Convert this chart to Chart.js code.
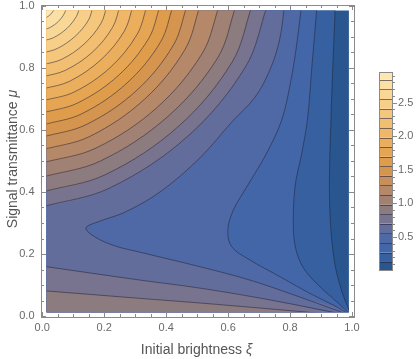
<!DOCTYPE html>
<html lang="en">
<head>
<meta charset="UTF-8">
<title>Contour plot</title>
<script src="https://cdn.jsdelivr.net/npm/chart.js"></script>
<style>
  html, body { margin: 0; padding: 0; background: #fff; }
</style>
</head>
<body>
<canvas id="contourChart" width="420" height="359"></canvas>
<script>
// contour levels (as in the colour bar) and the colour of each band between them
const levels = [0.13, 0.27, 0.41, 0.555, 0.70, 0.84, 0.98, 1.125, 1.27, 1.41,
                1.55, 1.695, 1.84, 1.98, 2.12, 2.265, 2.41, 2.55, 2.695, 2.84];
const barMax = 2.95;
const bandColors = ['#29568f', '#3760a0', '#4366a8', '#4f69a6', '#636d9c', '#78748f',
                    '#8c7b7f', '#a08173', '#b48868', '#c78f5b', '#d6954e', '#df9c4b',
                    '#e6a553', '#ebae5d', '#efb767', '#f2bf72', '#f5c77d', '#f7cf89',
                    '#f9d796', '#fbdfa4', '#fde8b4'];

// axis ticks
const xTicks = [0, 0.2, 0.4, 0.6, 0.8, 1.0];
const yTicks = [0, 0.2, 0.4, 0.6, 0.8, 1.0];
const barTicks = [0.5, 1.0, 1.5, 2.0, 2.5];

// contours [xi, mu]
// low levels: from the top edge, round the "nose", into the corner (1,0)
const c013 = [[0.946,1.0],[0.939,0.826],[0.932,0.632],[0.927,0.416],[0.932,0.277],[0.945,0.165],[0.961,0.100],[0.977,0.052],[1.0,0.0]];
const c027 = [[0.887,1.0],[0.871,0.81],[0.856,0.632],[0.838,0.526],[0.816,0.416],[0.811,0.277],[0.822,0.203],[0.848,0.148],[0.897,0.094],[0.951,0.046],[1.0,0.0]];
const c041 = [[0.837,1.0],[0.819,0.858],[0.800,0.745],[0.773,0.632],[0.725,0.526],[0.660,0.416],[0.617,0.342],[0.599,0.277],[0.612,0.223],[0.670,0.181],[0.767,0.127],[0.864,0.073],[0.940,0.035],[1.0,0.0]];
const c055 = [[0.782,1.0],[0.766,0.890],[0.735,0.794],[0.687,0.706],[0.612,0.626],[0.509,0.510],[0.380,0.400],[0.267,0.335],[0.186,0.306],[0.141,0.284],[0.170,0.255],[0.235,0.226],[0.315,0.206],[0.509,0.159],[0.670,0.116],[0.832,0.061],[1.0,0.0]];

// lines fanning out of the corner (1,0) to the left edge
const fan070 = [[0,0.161],[0.315,0.116],[0.509,0.090],[0.735,0.052],[1.0,0.0]];
const fan084 = [[0,0.082],[0.315,0.057],[0.509,0.042],[0.735,0.023],[1.0,0.0]];

// arcs round the top left corner, top edge -> left edge
const arc070 = [[0.726,1],[0.657,0.805],[0.470,0.580],[0.218,0.413],[0,0.352]];
const arc084 = [[0.677,1],[0.613,0.819],[0.439,0.611],[0.204,0.456],[0,0.400]];
const arc098 = [[0.625,1],[0.567,0.834],[0.405,0.643],[0.188,0.500],[0,0.448]];
const arc113 = [[0.571,1],[0.517,0.848],[0.370,0.672],[0.172,0.541],[0,0.494]];
const arc127 = [[0.509,1],[0.461,0.860],[0.330,0.699],[0.153,0.579],[0,0.536]];
const arc141 = [[0.467,1],[0.423,0.873],[0.303,0.726],[0.141,0.617],[0,0.577]];
const arc155 = [[0.422,1],[0.382,0.884],[0.273,0.751],[0.127,0.652],[0,0.616]];
const arc170 = [[0.380,1],[0.344,0.896],[0.246,0.776],[0.114,0.687],[0,0.655]];
const arc184 = [[0.338,1],[0.306,0.908],[0.219,0.801],[0.102,0.722],[0,0.694]];
const arc198 = [[0.293,1],[0.265,0.919],[0.190,0.827],[0.088,0.757],[0,0.732]];
const arc212 = [[0.251,1],[0.227,0.931],[0.163,0.852],[0.076,0.793],[0,0.771]];
const arc227 = [[0.209,1],[0.189,0.943],[0.135,0.877],[0.063,0.828],[0,0.810]];
const arc241 = [[0.164,1],[0.149,0.954],[0.106,0.902],[0.049,0.863],[0,0.848]];
const arc255 = [[0.122,1],[0.110,0.966],[0.079,0.927],[0.037,0.898],[0,0.887]];
const arc270 = [[0.080,1],[0.072,0.977],[0.052,0.950],[0.024,0.930],[0,0.923]];
const arc284 = [[0.041,1],[0.037,0.987],[0.027,0.973],[0.012,0.962],[0,0.958]];

// plotted domain (the function is drawn on this box only)
const xiRange = [0.014, 0.99];
const muRange = [0.012, 0.985];

const OUT = 0.1;
const toXY = pts => pts.map(p => ({x: p[0], y: p[1]}));

// superlevel regions, closed well outside the plotted box
function upperRegion(arc) {
  const first = arc[0], last = arc[arc.length - 1];
  return toXY(arc.concat([[-OUT, last[1]], [-OUT, 1 + OUT], [first[0], 1 + OUT]]));
}
function lowerRegion(fan) {
  const first = fan[0];
  return toXY(fan.concat([[1 + OUT, 0], [1 + OUT, -OUT], [-OUT, -OUT], [-OUT, first[1]]]));
}
function leftRegion(c) {
  const first = c[0];
  return toXY(c.concat([[1, -OUT], [-OUT, -OUT], [-OUT, 1 + OUT], [first[0], 1 + OUT]]));
}

// band k region(s), k = level index + 1
const regions = [
  [20, upperRegion(arc284)], [19, upperRegion(arc270)], [18, upperRegion(arc255)],
  [17, upperRegion(arc241)], [16, upperRegion(arc227)], [15, upperRegion(arc212)],
  [14, upperRegion(arc198)], [13, upperRegion(arc184)], [12, upperRegion(arc170)],
  [11, upperRegion(arc155)], [10, upperRegion(arc141)], [9, upperRegion(arc127)],
  [8, upperRegion(arc113)], [7, upperRegion(arc098)],
  [6, upperRegion(arc084)], [6, lowerRegion(fan084)],
  [5, upperRegion(arc070)], [5, lowerRegion(fan070)],
  [4, leftRegion(c055)], [3, leftRegion(c041)], [2, leftRegion(c027)], [1, leftRegion(c013)],
  [0, toXY([[-OUT, -OUT], [1 + OUT, -OUT], [1 + OUT, 1 + OUT], [-OUT, 1 + OUT]])]
];

const contourLines = [c013, c027, c041, c055, fan070, fan084,
  arc070, arc084, arc098, arc113, arc127, arc141, arc155, arc170,
  arc184, arc198, arc212, arc227, arc241, arc255, arc270, arc284];

const TENSION = 0.35;
const datasets = [];
contourLines.forEach(c => datasets.push({
  data: toXY(c), showLine: true, fill: false, tension: TENSION,
  borderColor: 'rgba(35,35,55,0.6)', borderWidth: 0.9, pointRadius: 0
}));
regions.forEach(([k, pts]) => datasets.push({
  data: pts, showLine: true, fill: 'shape', tension: TENSION,
  backgroundColor: bandColors[k], borderColor: 'transparent', borderWidth: 0, pointRadius: 0
}));

const FONT = '"Liberation Sans", Arial, sans-serif';
const frameColor = '#8a8a8a';
const tickText = '#6a6a6a';
const titleText = '#555555';

function titleText2(ctx, main, greek, cx, cy) {
  ctx.font = '14px ' + FONT;
  const w1 = ctx.measureText(main).width;
  ctx.font = 'italic 14px ' + FONT;
  const w2 = ctx.measureText(greek).width;
  const x0 = cx - (w1 + w2) / 2;
  ctx.textAlign = 'left';
  ctx.textBaseline = 'middle';
  ctx.font = '14px ' + FONT;
  ctx.fillText(main, x0, cy);
  ctx.font = 'italic 14px ' + FONT;
  ctx.fillText(greek, x0 + w1, cy);
}

const framePlugin = {
  id: 'frame',
  afterDraw(chart) {
    const ctx = chart.ctx;
    const {x, y} = chart.scales;
    const left = x.getPixelForValue(-0.0052), right = x.getPixelForValue(1.0065);
    const top = y.getPixelForValue(1.0032), bottom = y.getPixelForValue(-0.0042);
    ctx.save();
    ctx.strokeStyle = frameColor;
    ctx.lineWidth = 1;
    ctx.strokeRect(Math.round(left) + 0.5, Math.round(top) + 0.5,
                   Math.round(right - left), Math.round(bottom - top));
    // inward ticks on all four sides, every 0.05
    ctx.beginPath();
    for (let i = 0; i <= 20; i++) {
      const v = i * 0.05;
      const len = i % 4 === 0 ? 5 : 3;
      const px = Math.round(x.getPixelForValue(v)) + 0.5;
      const py = Math.round(y.getPixelForValue(v)) + 0.5;
      ctx.moveTo(px, Math.round(bottom)); ctx.lineTo(px, Math.round(bottom) - len);
      ctx.moveTo(px, Math.round(top)); ctx.lineTo(px, Math.round(top) + len);
      ctx.moveTo(Math.round(left), py); ctx.lineTo(Math.round(left) + len, py);
      ctx.moveTo(Math.round(right), py); ctx.lineTo(Math.round(right) - len, py);
    }
    ctx.stroke();

    ctx.fillStyle = tickText;
    ctx.font = '11px ' + FONT;
    ctx.textAlign = 'center';
    ctx.textBaseline = 'middle';
    xTicks.forEach(v => ctx.fillText(v.toFixed(1), x.getPixelForValue(v), 328));
    ctx.textAlign = 'right';
    yTicks.forEach(v => ctx.fillText(v.toFixed(1), 34.5, y.getPixelForValue(v)));

    ctx.fillStyle = titleText;
    titleText2(ctx, 'Initial brightness ', 'ξ', 196.5, 350);
    ctx.save();
    ctx.translate(13, 159);
    ctx.rotate(-Math.PI / 2);
    titleText2(ctx, 'Signal transmittance ', 'μ', 0, 0);
    ctx.restore();

    // colour bar
    const bx = 379, bw = 13, bTop = 72.3, bBot = 270.7;
    const vy = v => bBot - v / barMax * (bBot - bTop);
    const edges = [0].concat(levels, [barMax]);
    for (let i = 0; i < bandColors.length; i++) {
      ctx.fillStyle = bandColors[i];
      ctx.fillRect(bx, vy(edges[i + 1]), bw, vy(edges[i]) - vy(edges[i + 1]));
    }
    ctx.strokeStyle = 'rgba(35,35,55,0.6)';
    ctx.beginPath();
    levels.forEach(v => { const py = Math.round(vy(v)) + 0.5; ctx.moveTo(bx, py); ctx.lineTo(bx + bw, py); });
    ctx.stroke();
    ctx.strokeStyle = frameColor;
    ctx.strokeRect(bx + 0.5, Math.round(bTop) + 0.5, bw, Math.round(bBot - bTop));
    ctx.beginPath();
    for (let i = 1; i * 0.1 < barMax; i++) {
      const py = Math.round(vy(i * 0.1)) + 0.5;
      const len = i % 5 === 0 ? 4 : 2;
      ctx.moveTo(bx + bw + 1, py); ctx.lineTo(bx + bw + 1 + len, py);
    }
    ctx.stroke();
    ctx.fillStyle = tickText;
    ctx.font = '11px ' + FONT;
    ctx.textAlign = 'left';
    barTicks.forEach(v => ctx.fillText(v.toFixed(1), 398, vy(v)));
    ctx.restore();
  }
};

const ctx = document.getElementById('contourChart').getContext('2d');
new Chart(ctx, {
  type: 'scatter',
  data: { datasets },
  options: {
    responsive: false,
    animation: false,
    layout: { padding: { left: 46.6, top: 10.6, right: 71.1, bottom: 46.7 } },
    scales: {
      x: { type: 'linear', display: false, min: xiRange[0], max: xiRange[1] },
      y: { type: 'linear', display: false, min: muRange[0], max: muRange[1] }
    },
    plugins: {
      legend: { display: false },
      tooltip: { enabled: false },
      filler: { drawTime: 'beforeDatasetDraw' }
    }
  },
  plugins: [framePlugin]
});
</script>
</body>
</html>
